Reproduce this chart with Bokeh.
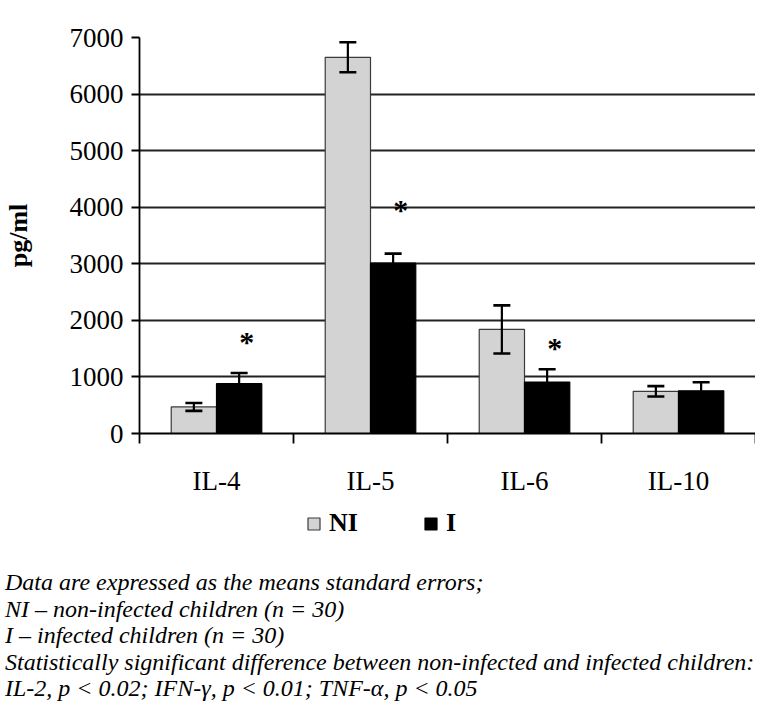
import numpy as np
from bokeh.plotting import figure
from bokeh.layouts import column
from bokeh.models import (ColumnDataSource, Whisker, TeeHead, FixedTicker, Legend,
                          LegendItem, Range1d, Div)
from bokeh.embed import file_html
from bokeh.resources import INLINE
from bokeh.core.properties import value

# ---------------- data ----------------
categories = ["IL-4", "IL-5", "IL-6", "IL-10"]
ni_mean = [470, 6650, 1840, 745]
ni_se = [70, 265, 425, 92]
i_mean = [880, 3010, 910, 755]
i_se = [190, 170, 225, 150]
star_categories = ["IL-4", "IL-5", "IL-6"]
star_y = [1670, 3990, 1560]
y_ticks = [0, 1000, 2000, 3000, 4000, 5000, 6000, 7000]
series_names = ["NI", "I"]
series_colors = ["#d3d3d3", "#000000"]
series_lines = ["#3a3a3a", "#000000"]
footnote_lines = [
    "Data are expressed as the means standard errors;",
    "NI \u2013 non-infected children (n = 30)",
    "I \u2013 infected children (n = 30)",
    "Statistically significant difference between non-infected and infected children:",
    "IL-2, p &lt; 0.02; IFN-\u03b3, p &lt; 0.01; TNF-\u03b1, p &lt; 0.05",
]

FONT = "Liberation Serif"
bar_w = 0.294
centers = np.arange(len(categories)) + 0.5
x_ni = centers - bar_w / 2
x_i = centers + bar_w / 2

src_ni = ColumnDataSource(dict(x=x_ni, top=ni_mean,
                               upper=np.array(ni_mean) + np.array(ni_se),
                               lower=np.array(ni_mean) - np.array(ni_se)))
src_i = ColumnDataSource(dict(x=x_i, top=i_mean,
                              upper=np.array(i_mean) + np.array(i_se),
                              lower=np.array(i_mean) - np.array(i_se)))
star_x = [x_i[categories.index(c)] + 0.05 for c in star_categories]
src_star = ColumnDataSource(dict(x=star_x, y=star_y, t=["*"] * len(star_y)))

# ---------------- main chart ----------------
p = figure(width=755, height=500, output_backend="svg", toolbar_location=None,
           x_range=Range1d(0, len(categories)), y_range=Range1d(0, 7000),
           min_border_left=130, min_border_right=0, min_border_top=37,
           min_border_bottom=67)
p.outline_line_color = None
p.background_fill_color = "white"
p.border_fill_color = "white"

r_ni = p.vbar(x="x", top="top", width=bar_w, source=src_ni,
              fill_color=series_colors[0], line_color=series_lines[0], line_width=1.2)
r_i = p.vbar(x="x", top="top", width=bar_w, source=src_i,
             fill_color=series_colors[1], line_color=series_lines[1], line_width=1.2)

for s in (src_ni, src_i):
    w = Whisker(base="x", upper="upper", lower="lower", source=s,
                line_color="black", line_width=2.2,
                upper_head=TeeHead(size=17, line_width=2.6, line_color="black"),
                lower_head=TeeHead(size=17, line_width=2.6, line_color="black"))
    w.level = "annotation"
    p.add_layout(w)

p.text(x="x", y="y", text="t", source=src_star, text_font=value(FONT),
       text_font_style="bold", text_font_size="30px", text_align="center",
       text_baseline="middle", y_offset=2, text_color="black")

p.xgrid.visible = False
p.ygrid.ticker = FixedTicker(ticks=y_ticks)
p.ygrid.grid_line_color = "#222222"
p.ygrid.grid_line_width = 2

p.yaxis.ticker = FixedTicker(ticks=y_ticks)
p.yaxis.minor_tick_line_color = None
p.yaxis.major_tick_in = 0
p.yaxis.major_tick_out = 8
p.yaxis.axis_label = "pg/ml"
p.yaxis.axis_label_text_font = FONT
p.yaxis.axis_label_text_font_style = "bold"
p.yaxis.axis_label_text_font_size = "26px"
p.yaxis.axis_label_standoff = 34
p.yaxis.major_label_standoff = 8

p.xaxis.ticker = FixedTicker(ticks=list(centers),
                             minor_ticks=list(range(len(categories) + 1)))
p.xaxis.major_label_overrides = {float(c): n for c, n in zip(centers, categories)}
p.xaxis.major_tick_in = 0
p.xaxis.major_tick_out = 0
p.xaxis.minor_tick_in = 0
p.xaxis.minor_tick_out = 10
p.xaxis.major_label_standoff = 22

for ax in (p.xaxis, p.yaxis):
    ax.axis_line_color = "black"
    ax.axis_line_width = 1.8
    ax.major_tick_line_color = "black"
    ax.major_tick_line_width = 1.8
    ax.minor_tick_line_width = 1.8
    ax.major_label_text_font = FONT
    ax.major_label_text_font_size = "27px"
    ax.major_label_text_color = "black"
    ax.axis_label_text_color = "black"
p.xaxis.minor_tick_line_color = "black"

# ---------------- legend strip ----------------
p2 = figure(width=755, height=45, output_backend="svg", toolbar_location=None,
            x_range=Range1d(0, 1), y_range=Range1d(0, 1),
            min_border_left=0, min_border_right=0, min_border_top=0,
            min_border_bottom=0, x_axis_type=None, y_axis_type=None)
p2.outline_line_color = None
p2.grid.visible = False
# swatch renderers placed outside the visible range: only their legend entries show
sw = [p2.vbar(x=[-5], top=[0], width=0.1, fill_color=c, line_color=lc, line_width=1.2)
      for c, lc in zip(series_colors, series_lines)]
legend = Legend(items=[LegendItem(label=n, renderers=[r]) for n, r in zip(series_names, sw)],
                orientation="horizontal", location=(167, 7),
                glyph_width=15, glyph_height=15, label_standoff=8, spacing=65,
                padding=0, margin=0, border_line_color=None,
                background_fill_alpha=0, label_text_font=FONT,
                label_text_font_style="bold", label_text_font_size="26px",
                label_text_color="black")
p2.add_layout(legend)

# ---------------- footnote ----------------
note = Div(text="<br>".join(footnote_lines), width=755, height=153,
           styles={"font-family": FONT, "font-style": "italic", "font-size": "24px",
                   "line-height": "26.5px", "color": "black",
                   "padding-top": "19px", "white-space": "nowrap"})

open("out.html", "w").write(file_html(column(p, p2, note), INLINE))
